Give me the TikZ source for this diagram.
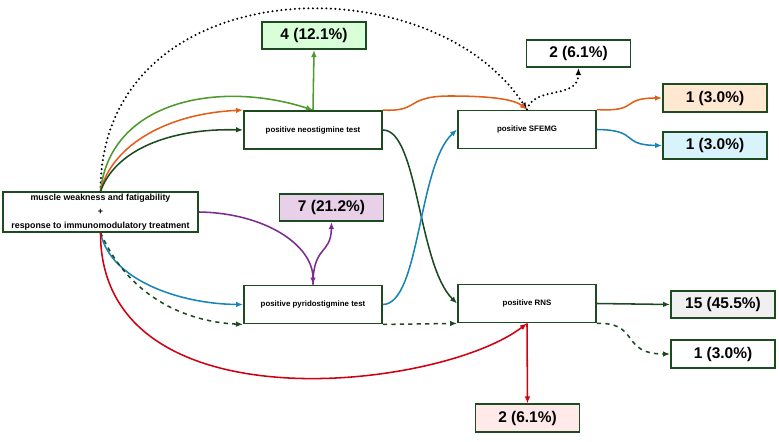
\documentclass[tikz,border=0pt]{standalone}
\usepackage{fontspec}
\setsansfont{Liberation Sans}
\usetikzlibrary{arrows.meta}

\definecolor{boxgreen}{HTML}{1E4A22}
\definecolor{dkgreen}{HTML}{1E4A22}
\definecolor{ltgreen}{HTML}{4E9A2E}
\definecolor{orng}{HTML}{E0601A}
\definecolor{blu}{HTML}{1A85B5}
\definecolor{purp}{HTML}{7B2D8E}
\definecolor{redd}{HTML}{D00010}

\begin{document}
\begin{tikzpicture}
[
	x=0.025cm, y=-0.025cm,
	stepbox/.style={draw=boxgreen,line width=1.3pt,fill=white,minimum width=3.45cm,minimum height=0.95cm,inner sep=1pt,font=\sffamily\bfseries\fontsize{5.6}{6.5}\selectfont},
	countbox/.style={draw=boxgreen,line width=1.3pt,minimum width=2.6cm,minimum height=0.68cm,inner sep=1pt,font=\sffamily\bfseries\fontsize{11}{12}\selectfont},
	link/.style={line width=1.1pt,-{Latex[length=5pt,width=4pt]}},
	dots/.style={line width=1.6pt,line cap=round,dash pattern=on 0pt off 3.2pt,-{Latex[length=5pt,width=4pt]}}
]

	\useasboundingbox (0,0) rectangle (779,442);

	% boxes
	\node[stepbox,minimum width=4.875cm,align=center,font=\sffamily\bfseries\fontsize{6.3}{10}\selectfont] (main) at (100.5,212)
		{muscle weakness and fatigability\\+\\response to immunomodulatory treatment};
	\node[stepbox] (neo) at (313,130) {positive neostigmine test};
	\node[stepbox] (pyr) at (313,304.5) {positive pyridostigmine test};
	\node[stepbox] (sfemg) at (527,129.5) {positive SFEMG};
	\node[stepbox] (rns) at (527,303.5) {positive RNS};

	\node[countbox,fill=green!15] (neoonly) at (314,35.5) {4 (12.1\%)};
	\node[countbox] (dotsonly) at (578.5,53.5) {2 (6.1\%)};
	\node[countbox,fill=orange!18] (orngend) at (715,98) {1 (3.0\%)};
	\node[countbox,fill=cyan!15] (bluend) at (715,145.5) {1 (3.0\%)};
	\node[countbox,fill=violet!18] (pyronly) at (331.5,207.5) {7 (21.2\%)};
	\node[countbox,fill=gray!12] (rnsall) at (723,304.5) {15 (45.5\%)};
	\node[countbox] (dashend) at (723,354) {1 (3.0\%)};
	\node[countbox,fill=pink!35] (redend) at (527.5,418) {2 (6.1\%)};

	% dotted path
	\draw[dots] (main.north) .. controls (100,-30) and (430,-40) .. (sfemg.north);
	\draw[dots] (sfemg.north) .. controls (535,85) and (578,100) .. (dotsonly.south);

	% green path
	\draw[link,ltgreen] (main.north) .. controls (110,100) and (220,80) .. (neo.north);
	\draw[link,ltgreen] (neo.north) -- (neoonly.south);

	% orange path
	\draw[link,orng] (main.north) .. controls (110,150) and (160,114) .. (neo.north west);
	\draw[link,orng] (neo.north east) .. controls (420,112) and (405,96) .. (450,96)
		.. controls (495,96) and (515,100) .. (sfemg.north);
	\draw[link,orng] (sfemg.north east) .. controls (640,112) and (620,98) .. (orngend.west);

	% dark green path
	\draw[link,dkgreen] (main.north) .. controls (115,150) and (170,128) .. (neo.west);
	\draw[link,dkgreen] (neo.east) .. controls (418,130) and (418,265) .. (rns.west);
	\draw[link,dkgreen] (rns.east) -- (rnsall.west);

	% purple path
	\draw[link,purp] (main.east) .. controls (265,213) and (313,245) .. (pyr.north);
	\draw[link,purp] (pyr.north) .. controls (313,245) and (331,255) .. (pyronly.south);

	% blue path
	\draw[link,blu] (main.south) .. controls (110,280) and (180,304) .. (pyr.west);
	\draw[link,blu] (pyr.east) .. controls (420,304) and (418,165) .. (sfemg.west);
	\draw[link,blu] (sfemg.east) .. controls (640,130) and (620,145) .. (bluend.west);

	% dashed path
	\draw[link,dkgreen,dashed] (main.south) .. controls (130,300) and (190,322) .. (pyr.south west);
	\draw[link,dkgreen,dashed] (pyr.south east) -- (rns.south west);
	\draw[link,dkgreen,dashed] (rns.south east) .. controls (640,322) and (620,354) .. (dashend.west);

	% red path
	\draw[link,redd] (main.south) .. controls (100,430) and (440,390) .. (rns.south);
	\draw[link,redd] (rns.south) -- (redend.north);

\end{tikzpicture}
\end{document}
